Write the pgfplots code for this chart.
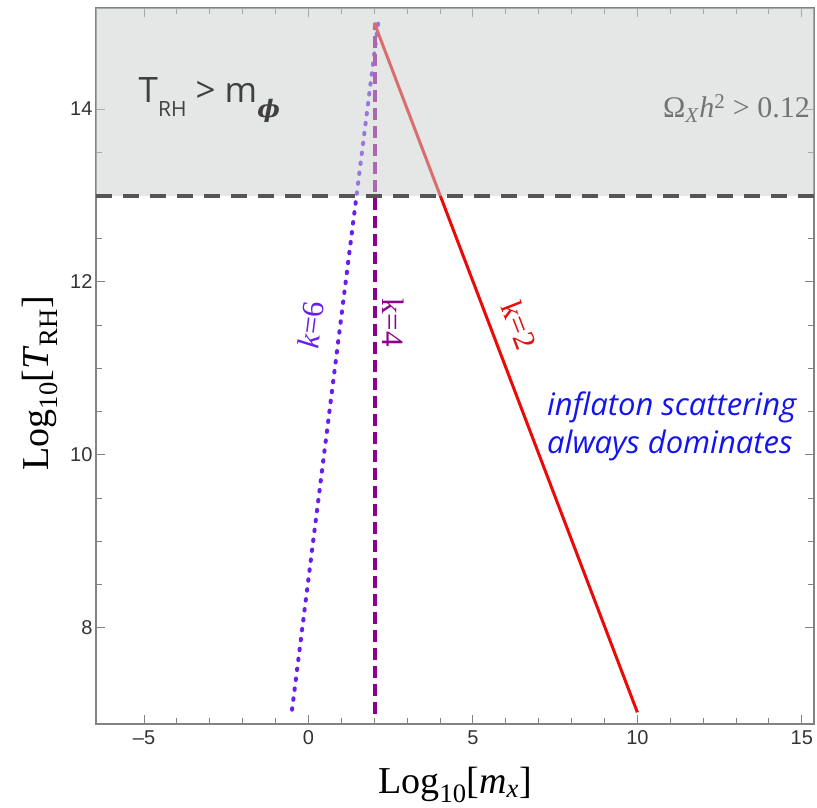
\documentclass[border=0pt]{standalone}
\usepackage{fontspec}
\setmainfont{Liberation Sans}
\newfontfamily\serif{Liberation Serif}
\newfontfamily\osans{Open Sans}
\newfontfamily\djs{DejaVu Serif}
\usepackage{pgfplots}
\pgfplotsset{compat=1.18}
\definecolor{kred}{RGB}{235,10,10}
\definecolor{kpurple}{RGB}{140,0,140}
\definecolor{kblue}{RGB}{105,30,235}
\definecolor{shade}{RGB}{203,208,208}
\definecolor{dline}{RGB}{85,85,85}
\definecolor{axgray}{RGB}{130,130,130}
\definecolor{tblue}{RGB}{20,20,240}
\begin{document}
\begin{tikzpicture}
\begin{axis}[
 scale only axis, width=718pt, height=716pt,
 xmin=-6.46, xmax=15.37, ymin=6.885, ymax=15.17,
 xtick={-5,0,5,10,15}, xticklabels={–5,0,5,10,15},
 ytick={8,10,12,14}, yticklabels={8,10,12,14},
 minor x tick num=4, minor y tick num=3,
 tick align=inside, major tick length=9pt, minor tick length=6pt,
 tick style={axgray, line width=1pt},
 axis line style={axgray, line width=1.4pt},
 ticklabel style={font=\fontsize{20}{24}\selectfont, text=black!80},
 xticklabel style={yshift=-3pt},
 xlabel={Log\textsubscript{10}[\textit{m}\textsubscript{\textit{x}}]},
 ylabel={Log\textsubscript{10}[\textit{T}\textsubscript{RH}]},
 xlabel style={at={(axis description cs:0.5,-0.085)}, anchor=center, font=\serif\fontsize{38}{42}\selectfont},
 ylabel style={at={(axis description cs:-0.078,0.476)}, anchor=center, font=\serif\fontsize{38}{42}\selectfont},
]
\addplot[kblue, line width=4pt, line cap=round, dash pattern=on 1.5pt off 8.5pt] coordinates {(-0.5,7.05) (2.12,15)};
\addplot[kpurple, line width=3.5pt, dash pattern=on 12pt off 6pt] coordinates {(2.03,7) (2.03,15)};
\addplot[kred, line width=3pt] coordinates {(2,15) (10,7.02)};
\addplot[draw=none, fill=shade, fill opacity=0.5] coordinates {(-6.46,13) (15.37,13) (15.37,15.17) (-6.46,15.17)} -- cycle;
\addplot[dline, line width=4pt, dash pattern=on 16pt off 11pt] coordinates {(-6.46,13) (15.37,13)};

\node[anchor=base west, text=black!75, font=\osans\fontsize{35}{40}\selectfont] at (axis cs:-5.27,14.073) {T\raisebox{-0.4em}{\fontsize{21}{21}\selectfont RH} > m\raisebox{-0.42em}{\djs\bfseries\itshape\fontsize{24}{24}\selectfont ϕ}};
\node[anchor=base east, text=black!55, font=\serif\fontsize{30}{34}\selectfont] at (axis cs:15.35,13.9) {Ω\textsubscript{\textit{X}}\textit{h}\textsuperscript{2} > 0.12};
\node[rotate=83, text=kblue, font=\serif\fontsize{31}{34}\selectfont] at (axis cs:0.08,11.50) {\textit{k}=6};
\node[rotate=-90, text=kpurple, font=\serif\fontsize{31}{34}\selectfont] at (axis cs:2.58,11.53) {k=4};
\node[rotate=-69, text=kred, font=\serif\fontsize{31}{34}\selectfont] at (axis cs:6.42,11.50) {k=2};
\node[anchor=base west, text=tblue, font=\osans\itshape\fontsize{31}{34}\selectfont] at (axis cs:7.15,10.46) {inflaton scattering};
\node[anchor=base west, text=tblue, font=\osans\itshape\fontsize{31}{34}\selectfont] at (axis cs:7.15,10.02) {always dominates};
\coordinate (SW) at (rel axis cs:0,0);
\end{axis}
\pgfresetboundingbox
\path (SW) ++(-96pt,-83pt) rectangle ++(817pt,807pt);
\end{tikzpicture}
\end{document}
